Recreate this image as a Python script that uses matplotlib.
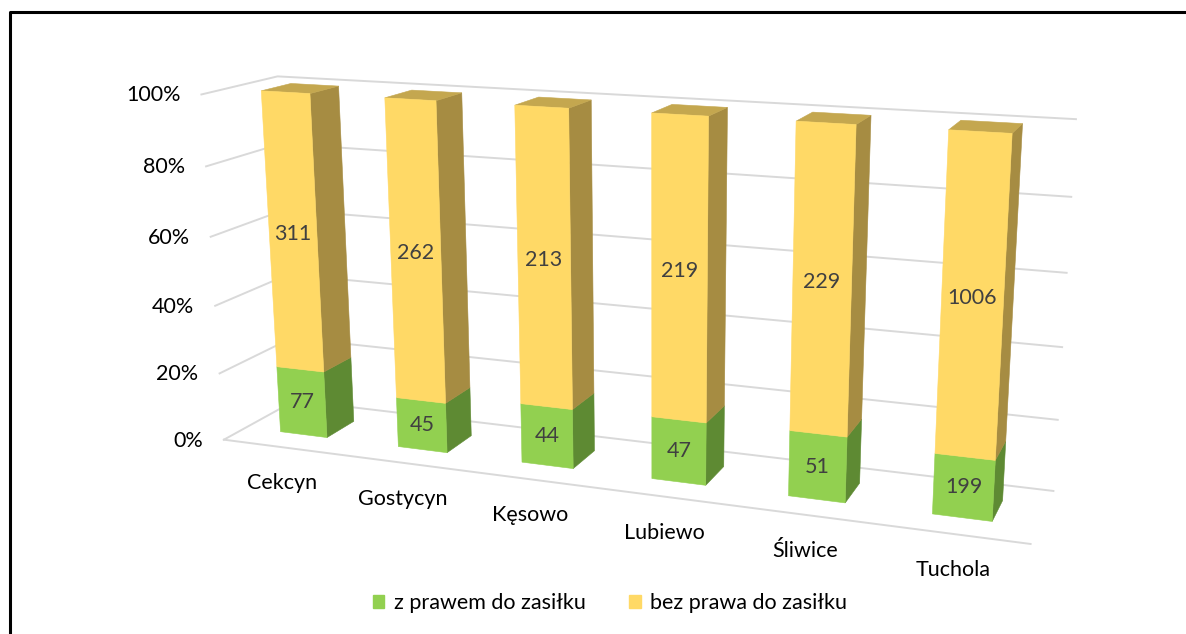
import numpy as np
import matplotlib
matplotlib.use("Agg")
import matplotlib.pyplot as plt
from matplotlib.patches import Polygon, Patch

gminy = ["Cekcyn", "Gostycyn", "Kęsowo", "Lubiewo", "Śliwice", "Tuchola"]
z_prawem = [77, 45, 44, 47, 51, 199]
bez_prawa = [311, 262, 213, 219, 229, 1006]
procenty = [0, 20, 40, 60, 80, 100]
procenty_etykiety = ["0%", "20%", "40%", "60%", "80%", "100%"]
serie = ["z prawem do zasiłku", "bez prawa do zasiłku"]

W, H = 1186, 634
n = len(gminy)
fs = 15.5

# plot box corners (category, depth, share) -> pixel, defines the 3D perspective
rog_swiat = [(0, 0, 1), (0, 1, 1), (n, 1, 1), (n, 1, 0), (0, 1, 0), (0, 0, 0), (n, 0, 0)]
rog_piksel = [(202, 95), (277, 76), (1076, 119), (1053, 492), (296, 400), (223, 440), (1031, 543)]


def kamera(swiat, piksel):
    A = []
    for (X, Y, Z), (u, v) in zip(swiat, piksel):
        u, v = u / 1000, v / 1000
        A.append([X, Y, Z, 1, 0, 0, 0, 0, -u * X, -u * Y, -u * Z, -u])
        A.append([0, 0, 0, 0, X, Y, Z, 1, -v * X, -v * Y, -v * Z, -v])
    return np.linalg.svd(np.array(A))[2][-1].reshape(3, 4)


P = kamera(rog_swiat, rog_piksel)


def rzut(X, Y, Z):
    p = P @ np.array([X, Y, Z, 1.0])
    return p[0] / p[2] * 1000, p[1] / p[2] * 1000


plt.rcParams['font.family'] = ['Lato', 'DejaVu Sans']
fig = plt.figure(figsize=(W / 100, H / 100), dpi=100)
ax = fig.add_axes([0, 0, 1, 1])
ax.set_xlim(0, W)
ax.set_ylim(H, 0)
ax.axis('off')

# gridlines on left wall and back wall
siatka = '#D9D9D9'
for p in procenty:
    z = p / 100
    pts = [rzut(0, 0, z), rzut(0, 1, z), rzut(n, 1, z)]
    ax.plot([q[0] for q in pts], [q[1] for q in pts], color=siatka, lw=1.4, zorder=1)
pts = [rzut(0, 0, 0), rzut(n, 0, 0)]
ax.plot([q[0] for q in pts], [q[1] for q in pts], color=siatka, lw=1.4, zorder=1)

# bars
szer = 0.4
y0, y1 = 0.3, 0.7


def sciana(pts, kolor):
    ax.add_patch(Polygon(pts, closed=True, facecolor=kolor, edgecolor=kolor, lw=0.4, zorder=3))


def slupek(i, z0, z1, przod, bok, gora=None):
    xa, xb = i + 0.5 - szer / 2, i + 0.5 + szer / 2
    sciana([rzut(xb, y0, z0), rzut(xb, y1, z0), rzut(xb, y1, z1), rzut(xb, y0, z1)], bok)
    if gora:
        sciana([rzut(xa, y0, z1), rzut(xb, y0, z1), rzut(xb, y1, z1), rzut(xa, y1, z1)], gora)
    sciana([rzut(xa, y0, z0), rzut(xb, y0, z0), rzut(xb, y0, z1), rzut(xa, y0, z1)], przod)


kolory = [('#92D050', '#5E8A33'), ('#FFD966', '#A68C42', '#C4A74F')]
for i in range(n):
    suma = z_prawem[i] + bez_prawa[i]
    g = z_prawem[i] / suma
    slupek(i, 0, g, *kolory[0])
    slupek(i, g, 1, *kolory[1])
    for z0, z1, v in [(0, g, z_prawem[i]), (g, 1, bez_prawa[i])]:
        x, y = rzut(i + 0.5, y0, (z0 + z1) / 2)
        ax.text(x, y, str(v), ha='center', va='center', fontsize=fs, color='#404040', zorder=5)
    x, y = rzut(i + 0.5, 0, 0)
    ax.text(x, y + 36, gminy[i], ha='center', va='center', fontsize=fs, color='black')

for p, lab in zip(procenty, procenty_etykiety):
    x, y = rzut(0, 0, p / 100)
    ax.text(x - 21, y + 1, lab, ha='right', va='center', fontsize=fs, color='black')

# frame of the chart area
ax.plot([9.5, 9.5, W + 5], [H + 5, 11.5, 11.5], color='black', lw=2.2, clip_on=False)

fig.legend(handles=[Patch(color=kolory[0][0]), Patch(color=kolory[1][0])], labels=serie,
           loc='center', bbox_to_anchor=(610 / W, 1 - 603 / H), ncol=2, frameon=False,
           fontsize=fs, handlelength=0.55, handleheight=0.55, handletextpad=0.45,
           columnspacing=2.0)

fig.savefig('out.png', dpi=100)
